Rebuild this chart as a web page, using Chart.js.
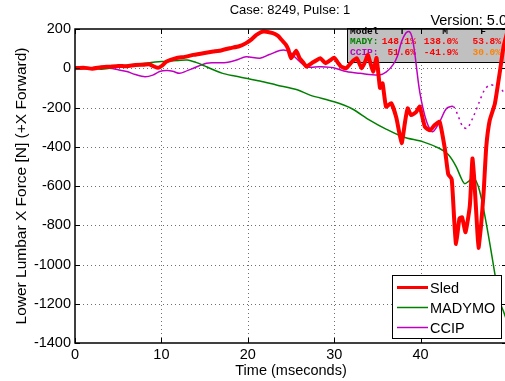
<!DOCTYPE html>
<html>
<head>
<meta charset="utf-8">
<script src="https://cdn.jsdelivr.net/npm/chart.js@4.4.0/dist/chart.umd.min.js"></script>
<style>
html, body { margin: 0; padding: 0; background: #fff; overflow: hidden; }
#wrap { position: relative; width: 510px; height: 381px; }
</style>
</head>
<body>
<div id="wrap"><canvas id="myChart" width="510" height="381"></canvas></div>
<script>
// temps (ms) / force (N)
const sledT = [0, 1, 2, 3, 4, 5, 6, 7, 8, 8.6, 9.2, 9.6, 10.1, 10.6, 11.7, 12.7, 13.7, 15, 16, 17, 17.9, 19, 19.8, 20.5, 21, 21.8, 22.9, 23.5, 23.9, 24.4, 24.7, 25.0, 25.6, 26.0, 26.4, 26.8, 27.2, 27.7, 28.4, 29.0, 29.5, 30.0, 30.4, 30.8, 31.4, 32.0, 32.6, 33.2, 33.6, 33.9, 34.5, 34.9, 35.3, 35.6, 36.0, 36.6, 37.2, 37.8, 38.2, 38.5, 38.9, 39.5, 39.9, 40.5, 41.1, 41.6, 42.2, 42.8, 43.2, 43.6, 43.9, 44.1, 44.5, 44.8, 45.2, 45.7, 46.0, 46.2, 46.5, 46.7, 47.0, 47.3, 47.6, 48.0, 48.6, 49.2, 49.6, 50];
const sledF = [0, 3, -2, 5, 8, 12, 10, 17, 18, 20, 8, 2, 14, 34, 51, 58, 68, 78, 85, 92, 102, 112, 128, 150, 170, 187, 179, 165, 145, 120, 94, 51, 89, 51, 30, 8, 20, 34, 51, 26, 40, 54, 30, 8, 0, 30, 51, 0, 35, 68, -17, 52, -100, -77, -196, -178, -254, -382, -273, -204, -239, -222, -196, -299, -316, -290, -273, -408, -540, -565, -780, -895, -765, -760, -835, -700, -460, -560, -780, -915, -800, -630, -400, -265, -180, -10, 110, 180];

const madyT = [0, 1, 2, 3, 4, 5, 6, 8, 10, 12, 13, 14, 15, 15.6, 17, 18.5, 19.8, 21.4, 23.3, 25.8, 27.2, 30, 32, 34.1, 36, 38, 40.3, 42.2, 43.2, 44.1, 44.7, 45.1, 45.6, 46.1, 46.8, 47.6, 48.6, 49.0, 49.6, 50];
const madyF = [0, -3, 2, -5, 0, 8, 15, 25, 34, 40, 42, 30, 12, 0, -25, -40, -51, -65, -85, -111, -137, -171, -205, -264, -310, -350, -375, -409, -440, -500, -560, -588, -575, -554, -620, -790, -1049, -1168, -1240, -1290];

const ccipT = [0, 2, 4, 5, 6, 7, 8.1, 9, 9.8, 10.6, 11.3, 12.1, 13, 13.7, 15.2, 16.3, 17.5, 18.7, 19.8, 21.4, 22.5, 23.7, 24.3, 24.8, 25.5, 26.8, 28.3, 29.9, 31.4, 33.0, 35.2, 36.0, 36.8, 37.3, 37.8, 38.3, 38.7, 39.0, 39.3, 39.9, 40.7, 41.4, 42.2, 43.0, 43.8, 44.4, 44.9, 45.4, 46.1, 46.8, 47.4, 48.0, 48.6, 49.2, 49.6];
const ccipF = [0, 2, 0, -8, -17, -32, -43, -35, -17, -12, -15, -26, -12, 0, 26, 28, 29, 42, 59, 51, 70, 90, 92, 85, 55, 8, 8, 3, -17, -26, -34, -20, 17, 60, 136, 180, 187, 160, 85, -120, -273, -324, -273, -205, -196, -250, -299, -305, -247, -171, -110, -85, -90, -102, -120];
const ccipSolidEnd = 43.8; // au-dela : pointilles

// tableau en haut a droite
const tableHead = ['Model', 'T', 'M', 'F'];
const tableNames = ['MADY:', 'CCIP:'];
const tableVals = [['148.1%', '138.0%', '53.8%'], ['51.6%', '-41.9%', '30.0%']];
const tableValColors = [['#ff0000', '#ff0000', '#ff0000'], ['#ff0000', '#ff0000', '#ff8000']];

const FONT = '"Liberation Sans", Arial, sans-serif';

function pts(t, f) { return t.map((x, i) => ({ x: x, y: f[i] })); }

const decor = {
	id: 'decor',
	beforeDatasetsDraw(chart) {
		const ctx = chart.ctx, a = chart.chartArea;
		const xs = chart.scales.x, ys = chart.scales.y;
		ctx.save();
		// grille pointillee
		ctx.strokeStyle = '#707070';
		ctx.lineWidth = 1;
		ctx.setLineDash([1, 3]);
		ctx.beginPath();
		xs.ticks.forEach(t => {
			const px = Math.round(xs.getPixelForValue(t.value)) + 0.5;
			if (px <= a.left + 1 || px >= a.right - 1) return;
			ctx.moveTo(px, a.top); ctx.lineTo(px, a.bottom);
		});
		ys.ticks.forEach(t => {
			const py = Math.round(ys.getPixelForValue(t.value)) + 0.5;
			if (py <= a.top + 1 || py >= a.bottom - 1) return;
			ctx.moveTo(a.left, py); ctx.lineTo(a.right, py);
		});
		ctx.stroke();
		ctx.setLineDash([]);

		// boite grise du tableau
		ctx.fillStyle = '#c0c0c0';
		ctx.fillRect(347, 28.5, 170, 34);
		ctx.strokeStyle = '#000';
		ctx.lineWidth = 1;
		ctx.strokeRect(347.5, 28.5, 170, 34);
		ctx.font = 'bold 9.5px "Liberation Mono", monospace';
		ctx.textBaseline = 'middle';
		ctx.fillStyle = '#000';
		ctx.textAlign = 'left';
		ctx.fillText(tableHead[0], 350, 32);
		ctx.textAlign = 'center';
		ctx.fillText(tableHead[1], 402, 32);
		ctx.fillText(tableHead[2], 445, 32);
		ctx.fillText(tableHead[3], 483, 32);
		const nameColors = ['#008000', '#c000c0'];
		const colRight = [416, 458, 501];
		for (let r = 0; r < 2; r++) {
			const y = 42 + r * 11;
			ctx.textAlign = 'left';
			ctx.fillStyle = nameColors[r];
			ctx.fillText(tableNames[r], 350, y);
			ctx.textAlign = 'right';
			for (let c = 0; c < 3; c++) {
				ctx.fillStyle = tableValColors[r][c];
				ctx.fillText(tableVals[r][c], colRight[c], y);
			}
		}
		ctx.restore();
	},
	afterDatasetsDraw(chart) {
		const ctx = chart.ctx, a = chart.chartArea;
		const xs = chart.scales.x, ys = chart.scales.y;
		ctx.save();
		// cadre
		ctx.strokeStyle = '#000';
		ctx.lineWidth = 1.5;
		ctx.strokeRect(a.left, a.top, a.right - a.left, a.bottom - a.top);
		// graduations vers l'interieur
		ctx.lineWidth = 1;
		ctx.beginPath();
		xs.ticks.forEach(t => {
			const px = Math.round(xs.getPixelForValue(t.value)) + 0.5;
			ctx.moveTo(px, a.bottom); ctx.lineTo(px, a.bottom - 5);
			ctx.moveTo(px, a.top); ctx.lineTo(px, a.top + 5);
		});
		ys.ticks.forEach(t => {
			const py = Math.round(ys.getPixelForValue(t.value)) + 0.5;
			ctx.moveTo(a.left, py); ctx.lineTo(a.left + 5, py);
			ctx.moveTo(a.right, py); ctx.lineTo(a.right - 5, py);
		});
		ctx.stroke();

		// legende
		ctx.fillStyle = '#fff';
		ctx.fillRect(392, 275, 109, 63);
		ctx.strokeStyle = '#000';
		ctx.lineWidth = 1;
		ctx.strokeRect(392.5, 275.5, 109, 63);
		ctx.font = '14.5px ' + FONT;
		ctx.textBaseline = 'middle';
		ctx.textAlign = 'left';
		chart.data.datasets.forEach((ds, i) => {
			const y = 287.5 + i * 20;
			ctx.strokeStyle = ds.borderColor;
			ctx.lineWidth = ds.legendWidth;
			ctx.beginPath();
			ctx.moveTo(397, y); ctx.lineTo(428, y);
			ctx.stroke();
			ctx.fillStyle = '#000';
			ctx.fillText(ds.label, 430, y + 1);
		});

		// titre et version
		ctx.fillStyle = '#000';
		ctx.textAlign = 'center';
		ctx.font = '13px ' + FONT;
		ctx.fillText('Case: 8249, Pulse: 1', (a.left + a.right) / 2 - 1, 10);
		ctx.textAlign = 'right';
		ctx.font = '14.5px ' + FONT;
		ctx.fillText('Version: 5.0', 507, 21);
		ctx.restore();
	}
};

new Chart('myChart', {
	type: 'line',
	data: {
		datasets: [{
			label: 'Sled',
			data: pts(sledT, sledF),
			borderColor: '#ff0000',
			borderWidth: 4,
			legendWidth: 3,
			tension: 0.15,
			pointRadius: 0
		}, {
			label: 'MADYMO',
			data: pts(madyT, madyF),
			borderColor: '#008000',
			borderWidth: 1.5,
			legendWidth: 1.5,
			tension: 0.3,
			pointRadius: 0
		}, {
			label: 'CCIP',
			data: pts(ccipT, ccipF),
			borderColor: '#c000c0',
			borderWidth: 1.5,
			legendWidth: 1.5,
			tension: 0.3,
			pointRadius: 0,
			segment: {
				borderDash: c => c.p0.parsed.x >= ccipSolidEnd ? [2, 4] : undefined
			}
		}]
	},
	options: {
		responsive: false,
		animation: false,
		layout: { padding: { top: 29, right: 2, left: 0, bottom: 0 } },
		plugins: {
			legend: { display: false },
			title: { display: false },
			tooltip: { enabled: false }
		},
		scales: {
			x: {
				type: 'linear',
				min: 0,
				max: 50,
				afterFit: s => { s.height = 38; },
				ticks: {
					stepSize: 10,
					padding: 3,
					color: '#000',
					font: { family: FONT, size: 14.5 },
					callback: v => v < 50 ? String(v) : ''
				},
				grid: { display: false, drawTicks: false },
				border: { display: false },
				title: {
					display: true,
					text: 'Time (mseconds)',
					color: '#000',
					font: { family: FONT, size: 14.5 },
					padding: { top: 0, bottom: 1 }
				}
			},
			y: {
				min: -1400,
				max: 200,
				afterFit: s => { s.width = 75; },
				ticks: {
					stepSize: 200,
					padding: 4,
					color: '#000',
					font: { family: FONT, size: 14.5 },
					callback: v => String(v)
				},
				grid: { display: false, drawTicks: false },
				border: { display: false },
				title: {
					display: true,
					text: 'Lower Lumbar X Force [N] (+X Forward)',
					color: '#000',
					font: { family: FONT, size: 15.5 },
					padding: { top: 12, bottom: 0 }
				}
			}
		}
	},
	plugins: [decor]
});
</script>
</body>
</html>
